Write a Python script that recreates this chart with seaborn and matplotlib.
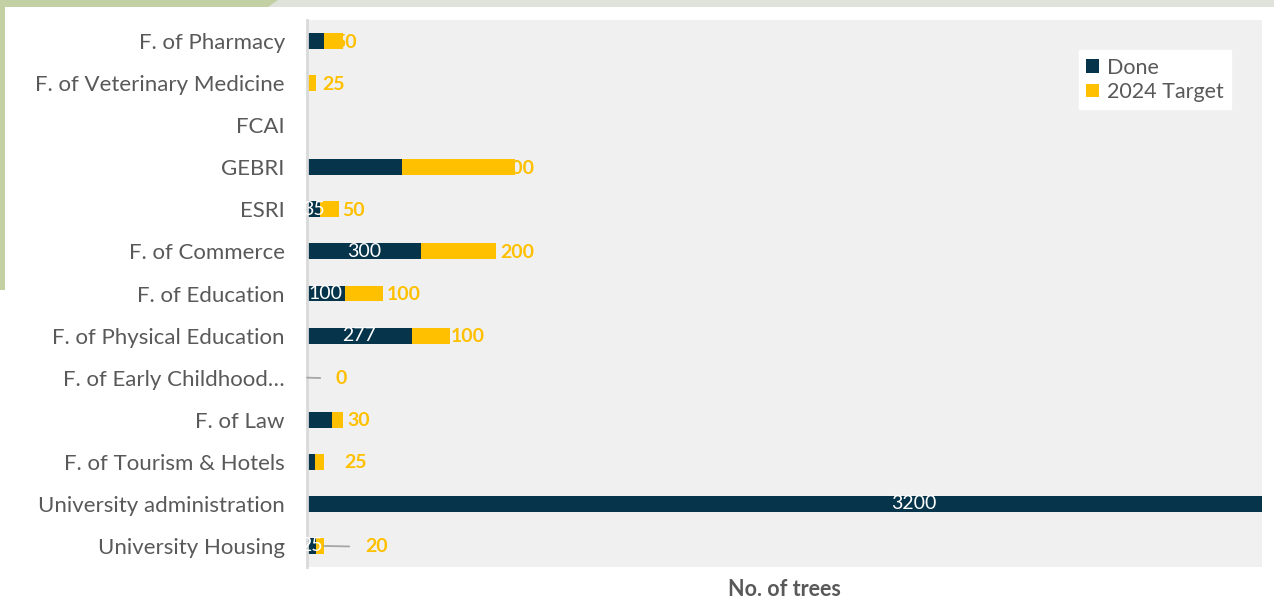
import matplotlib
matplotlib.use("Agg")
import matplotlib.pyplot as plt
from matplotlib.patches import Polygon, Rectangle
import seaborn as sns
import pandas as pd

categories = ["F. of Pharmacy", "F. of Veterinary Medicine", "FCAI", "GEBRI", "ESRI",
              "F. of Commerce", "F. of Education", "F. of Physical Education",
              "F. of Early Childhood\u2026", "F. of Law", "F. of Tourism & Hotels",
              "University administration", "University Housing"]
done = [45, 0, 0, 250, 35, 300, 100, 277, 0, 65, 20, 3200, 25]
target = [50, 25, 0, 300, 50, 200, 100, 100, 0, 30, 25, 0, 20]
show_done_label = [False, False, False, False, True, True, True, True, False, False, False, True, True]
show_target_label = [True, True, False, True, True, True, True, True, True, True, True, False, True]
series_names = ["Done", "2024 Target"]
x_label = "No. of trees"

DARK = "#06344A"
YELLOW = "#FFC000"
GRAY = "#595959"

sns.set_theme(style="white")
plt.rcParams["font.family"] = ["Lato", "DejaVu Sans"]

df = pd.DataFrame({"cat": categories, "done": done, "target": target})
df["total"] = df["done"] + df["target"]

W, H = 1274, 600
fig = plt.figure(figsize=(W / 100, H / 100), dpi=100)
fig.patch.set_facecolor("white")

# decorative frame
fig.patches.append(Rectangle((0, 1 - 7 / H), 1, 7 / H, transform=fig.transFigure,
                             facecolor="#E0E2DC", edgecolor="none", zorder=0))
fig.patches.append(Polygon([(0, 1), (278 / W, 1), (268 / W, 1 - 7 / H), (0, 1 - 7 / H)],
                           closed=True, transform=fig.transFigure,
                           facecolor="#C2D0A3", edgecolor="none", zorder=1))
fig.patches.append(Rectangle((0, 1 - 290 / H), 5 / W, 290 / H, transform=fig.transFigure,
                             facecolor="#C2D0A3", edgecolor="none", zorder=1))

ax = fig.add_axes([307 / W, 1 - 567 / H, (1262 - 307) / W, (567 - 20) / H])
ax.set_facecolor("#F0F0F0")

sns.barplot(data=df, y="cat", x="total", color=YELLOW, width=0.38, ax=ax,
            orient="h", saturation=1, label=series_names[1], linewidth=0)
sns.barplot(data=df, y="cat", x="done", color=DARK, width=0.38, ax=ax,
            orient="h", saturation=1, label=series_names[0], linewidth=0)

ax.set_xlim(0, 2520)
ax.set_ylim(12.5, -0.5)
ax.set_xticks([])
ax.set_ylabel("")
ax.set_xlabel(x_label, fontsize=15.5, fontweight="bold", color=GRAY, labelpad=9)
ax.tick_params(axis="y", length=0, labelsize=16, labelcolor=GRAY, pad=16)
for s in ["top", "right", "bottom"]:
    ax.spines[s].set_visible(False)
ax.spines["left"].set_color("#D9D9D9")
ax.spines["left"].set_linewidth(2)

# done labels (centered, white)
for i, (d, show) in enumerate(zip(done, show_done_label)):
    if show:
        ax.text(d / 2, i, f"{d}", ha="center", va="center", color="white",
                fontsize=14, zorder=5)

# target labels (bold, yellow), pixel offsets from bar end
label_offsets = [-9, 6, 0, -15, 3, 4, 4, 1, 29, 4, 20, 0, 41]
leader = [False, False, False, False, False, False, False, False, True, False, False, False, True]
for i, (t, tot, show) in enumerate(zip(target, df["total"], show_target_label)):
    if not show:
        continue
    off = label_offsets[i]
    kw = dict(xy=(tot, i), xytext=(off, -1), textcoords="offset pixels",
              ha="left", va="center", color=YELLOW, fontsize=14, fontweight="bold",
              zorder=5)
    if leader[i]:
        kw["arrowprops"] = dict(arrowstyle="-", color="#A6A6A6", lw=1.3,
                                shrinkA=9, shrinkB=0)
    ax.annotate(f"{t}", **kw)

handles, labels = ax.get_legend_handles_labels()
order = [labels.index(series_names[0]), labels.index(series_names[1])]
leg = ax.legend([handles[k] for k in order], [labels[k] for k in order],
                loc="upper right", bbox_to_anchor=(0.9675, 0.945), frameon=True,
                fancybox=False, framealpha=1, edgecolor="white", fontsize=15.5,
                handlelength=0.6, handleheight=0.6, handletextpad=0.35,
                labelspacing=0.2, borderpad=0.35, borderaxespad=0)
for txt in leg.get_texts():
    txt.set_color(GRAY)

fig.savefig("out.png", dpi=100, facecolor=fig.get_facecolor())
